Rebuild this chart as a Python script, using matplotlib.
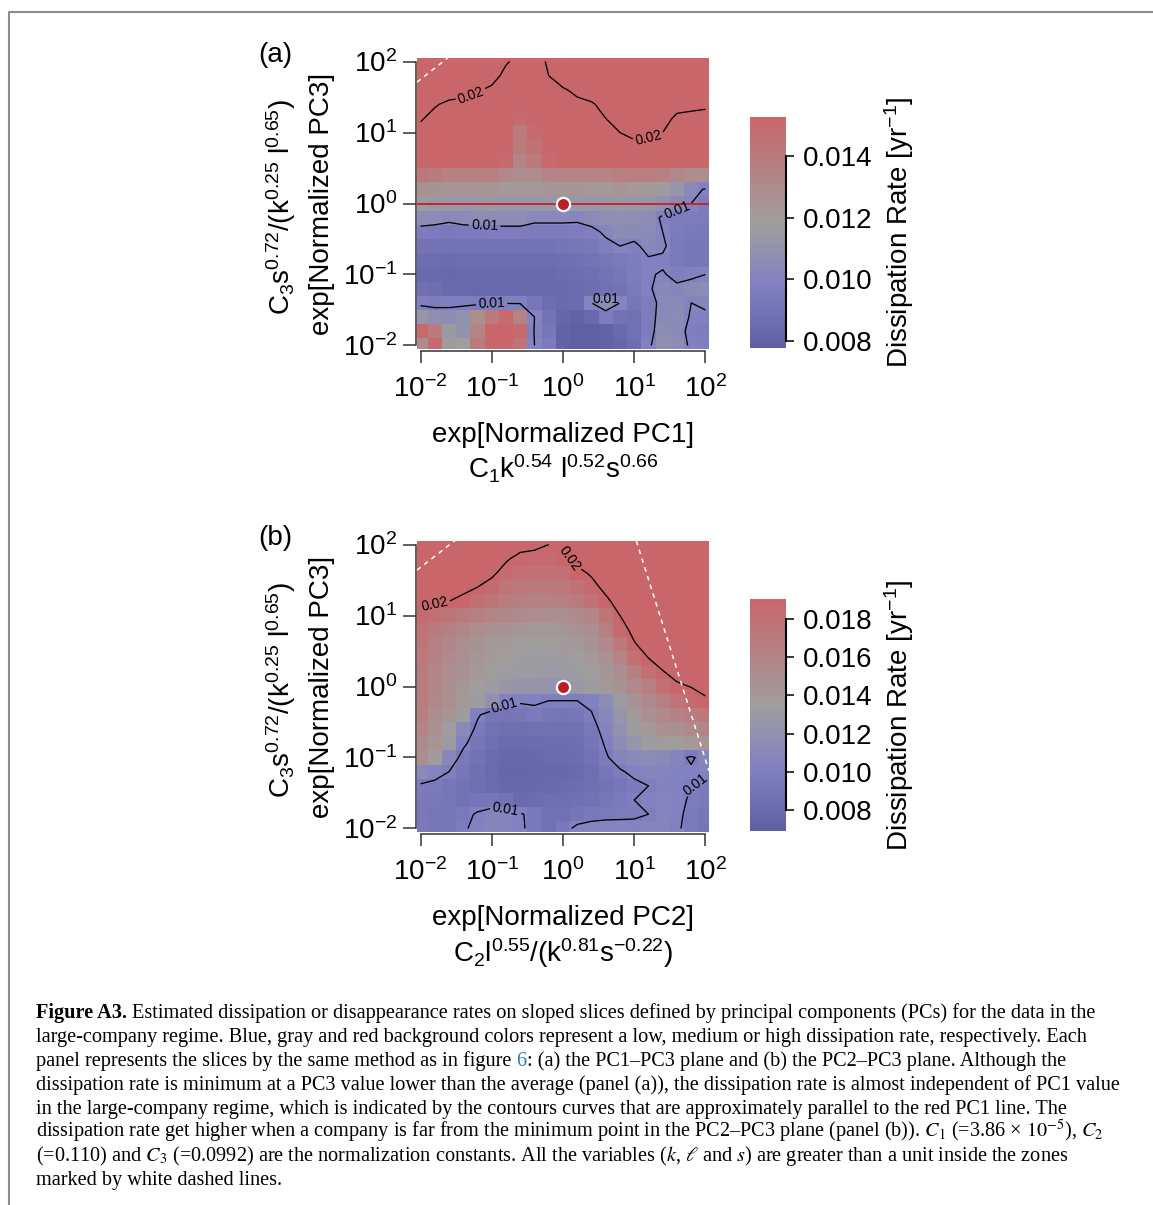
import numpy as np
import matplotlib
matplotlib.use('Agg')
import matplotlib.pyplot as plt
from matplotlib.colors import LinearSegmentedColormap
from matplotlib.ticker import FuncFormatter
from matplotlib.lines import Line2D

plt.rcParams['font.family'] = ['Liberation Sans', 'DejaVu Sans']
plt.rcParams['mathtext.fontset'] = 'custom'
plt.rcParams['mathtext.rm'] = 'Liberation Sans'
plt.rcParams['mathtext.it'] = 'Liberation Sans:italic'
plt.rcParams['mathtext.bf'] = 'Liberation Sans:bold'

W, H = 1153, 1205

# cell centres (log10 of the axis value), same for both axes
log_centres = [-2.0, -1.8, -1.6, -1.4, -1.2, -1.0, -0.8, -0.6, -0.4, -0.2, 0.0,
               0.2, 0.4, 0.6, 0.8, 1.0, 1.2, 1.4, 1.6, 1.8, 2.0]

# estimated dissipation rate in 1e-4 / yr, rows from top (10^2) to bottom (10^-2)
rate_a = [
    [240, 240, 240, 240, 240, 230, 205, 185, 185, 205, 240, 240, 240, 240, 240, 240, 240, 240, 240, 240, 240],
    [240, 240, 240, 240, 235, 220, 185, 180, 180, 200, 225, 235, 240, 240, 240, 240, 240, 240, 240, 240, 240],
    [240, 235, 225, 220, 205, 190, 180, 175, 175, 185, 195, 210, 225, 235, 240, 240, 240, 240, 240, 240, 240],
    [235, 205, 190, 185, 185, 180, 175, 165, 170, 180, 185, 190, 195, 215, 232, 235, 238, 230, 215, 212, 208],
    [205, 185, 180, 180, 180, 175, 170, 150, 160, 175, 180, 180, 185, 200, 222, 225, 222, 215, 192, 188, 186],
    [185, 180, 180, 175, 175, 170, 165, 140, 150, 170, 175, 175, 180, 185, 200, 210, 207, 200, 180, 180, 180],
    [180, 175, 175, 175, 175, 170, 160, 140, 145, 165, 170, 170, 170, 175, 185, 190, 190, 180, 175, 175, 170],
    [170, 165, 165, 165, 160, 160, 150, 135, 140, 150, 160, 160, 160, 160, 165, 165, 165, 165, 160, 160, 160],
    [142, 140, 136, 136, 136, 138, 132, 128, 130, 134, 135, 135, 135, 135, 138, 138, 138, 136, 132, 130, 128],
    [126, 125, 124, 124, 124, 124, 122, 122, 122, 124, 124, 124, 122, 122, 124, 122, 122, 120, 112, 104, 99],
    [116, 114, 114, 113, 113, 114, 113, 113, 113, 114, 115, 114, 113, 113, 114, 113, 112, 109, 104, 100, 96],
    [106, 105, 103, 105, 106, 106, 106, 106, 103, 103, 103, 102, 105, 107, 108, 108, 106, 98, 96, 96, 95],
    [96, 95, 94, 95, 95, 96, 96, 96, 95, 95, 95, 96, 97, 102, 105, 104, 105, 100, 95, 94, 93],
    [90, 90, 89, 90, 90, 90, 90, 90, 90, 90, 91, 92, 93, 97, 100, 98, 103, 102, 94, 92, 92],
    [86, 86, 85, 86, 86, 86, 86, 86, 86, 86, 87, 88, 90, 92, 94, 96, 99, 98, 94, 92, 92],
    [84, 84, 83, 84, 84, 84, 84, 84, 84, 84, 85, 86, 87, 89, 92, 95, 99, 101, 97, 98, 100],
    [88, 86, 84, 84, 83, 84, 84, 84, 84, 84, 84, 85, 86, 88, 90, 94, 99, 103, 102, 104, 106],
    [97, 96, 97, 97, 96, 97, 98, 98, 92, 86, 84, 85, 100, 105, 100, 92, 96, 103, 104, 100, 102],
    [112, 108, 106, 110, 128, 140, 150, 135, 100, 90, 82, 80, 84, 96, 90, 88, 96, 104, 105, 99, 98],
    [150, 140, 115, 110, 135, 155, 158, 150, 98, 92, 80, 78, 78, 80, 84, 88, 96, 106, 104, 97, 96],
    [130, 150, 120, 118, 140, 158, 160, 145, 100, 95, 80, 78, 78, 80, 82, 86, 98, 108, 106, 98, 97],
]

rate_b = [
    [240, 240, 240, 240, 240, 240, 235, 215, 210, 200, 200, 225, 240, 240, 240, 240, 240, 240, 240, 240, 240],
    [240, 240, 240, 240, 240, 235, 205, 188, 185, 185, 190, 212, 235, 240, 240, 240, 240, 240, 240, 240, 240],
    [240, 240, 240, 235, 225, 208, 185, 180, 178, 178, 180, 190, 205, 225, 240, 240, 240, 240, 240, 240, 240],
    [235, 230, 220, 210, 200, 185, 175, 172, 170, 170, 172, 178, 188, 210, 230, 240, 240, 240, 240, 240, 240],
    [212, 206, 200, 190, 182, 175, 168, 165, 162, 162, 165, 170, 178, 192, 215, 235, 240, 240, 240, 240, 240],
    [185, 180, 175, 170, 165, 160, 158, 155, 152, 150, 152, 155, 160, 175, 200, 220, 235, 240, 240, 240, 240],
    [178, 170, 165, 158, 152, 148, 145, 142, 140, 140, 142, 145, 150, 165, 188, 208, 225, 235, 240, 240, 240],
    [175, 165, 158, 150, 145, 140, 138, 136, 135, 135, 137, 140, 145, 155, 172, 198, 212, 225, 232, 235, 238],
    [172, 162, 155, 148, 142, 138, 135, 133, 132, 132, 133, 136, 140, 148, 160, 180, 200, 212, 220, 228, 232],
    [170, 160, 152, 145, 140, 135, 132, 130, 130, 129, 130, 132, 136, 142, 150, 165, 180, 198, 210, 218, 225],
    [170, 158, 150, 142, 136, 130, 126, 124, 123, 122, 124, 128, 133, 140, 146, 155, 165, 180, 195, 201, 210],
    [168, 156, 148, 140, 132, 120, 104, 102, 102, 100, 100, 100, 103, 115, 130, 145, 155, 165, 175, 185, 195],
    [165, 152, 144, 132, 102, 92, 90, 92, 96, 92, 90, 92, 99, 110, 125, 138, 148, 155, 162, 168, 172],
    [160, 148, 136, 112, 96, 88, 85, 85, 86, 86, 86, 87, 94, 106, 120, 132, 140, 148, 150, 155, 158],
    [155, 144, 130, 103, 92, 84, 80, 80, 81, 82, 82, 84, 90, 102, 115, 125, 132, 138, 135, 140, 145],
    [150, 138, 110, 95, 88, 80, 77, 77, 78, 80, 80, 82, 88, 98, 108, 112, 115, 112, 106, 97, 108],
    [112, 106, 100, 92, 85, 80, 76, 76, 77, 78, 78, 80, 84, 92, 98, 104, 108, 106, 104, 103, 104],
    [98, 96, 92, 88, 84, 80, 77, 77, 78, 79, 80, 82, 85, 88, 92, 96, 100, 104, 103, 100, 98],
    [95, 94, 92, 88, 90, 92, 88, 80, 82, 84, 84, 86, 88, 92, 96, 100, 104, 106, 104, 98, 95],
    [94, 92, 92, 95, 102, 106, 106, 102, 94, 86, 86, 90, 94, 96, 97, 98, 100, 106, 103, 96, 92],
    [95, 92, 93, 98, 104, 108, 108, 103, 94, 86, 94, 104, 106, 106, 105, 104, 106, 106, 102, 95, 90],
]

# colour bar ranges and ticks
cbar_a_lim = [0.00777, 0.01528]
cbar_a_ticks = [0.008, 0.010, 0.012, 0.014]
cbar_b_lim = [0.00691, 0.01904]
cbar_b_ticks = [0.008, 0.010, 0.012, 0.014, 0.016, 0.018]
contour_levels = [0.01, 0.02]
axis_ticks = [-2, -1, 0, 1, 2]          # log10 positions of 10^-2 ... 10^2
min_point = [0.0, 0.0]                  # log10 of (1, 1)

# where contour labels sit (log10 x, log10 y)
labels_a = [(-1.3, 1.55), (1.2, 0.92), (-1.1, -0.3), (1.7, -0.3), (-1.0, -1.45), (0.6, -1.3)]
labels_b = [(-1.8, 1.14), (0.0, 1.75), (-0.85, -0.2), (-0.8, -1.7), (1.9, -1.5)]

# white dashed zone borders (log10 x list, log10 y list)
zones_a = [([-2.05, -1.62], [1.71, 2.05])]
zones_b = [([-2.05, -1.5], [1.64, 2.07]), ([1.03, 2.05], [2.05, -1.19])]

cmap = LinearSegmentedColormap.from_list(
    'rate', [(0.0, '#5F5FA5'), (0.28, '#8282C2'), (0.54, '#A09E9E'), (1.0, '#C9666A')])


def px_rect(l, t, r, b):
    return [l / W, 1 - b / H, (r - l) / W, (b - t) / H]


def pow10(v, pos):
    return '$\\mathdefault{10^{%d}}$' % round(v)


fig = plt.figure(figsize=(W / 100, H / 100), dpi=100)

# page frame
fig.add_artist(Line2D([9 / W, 9 / W, 1], [0, 1 - 12 / H, 1 - 12 / H],
                      transform=fig.transFigure, color='#8c8c8c', lw=1.5))


def panel(top, rate, lim, cticks, labels, zones, xlab1, xlab2, tag, red_line):
    ax = fig.add_axes(px_rect(417, top, 709, top + 291))
    c = np.array(log_centres)
    edges = np.r_[c - 0.1, c[-1] + 0.1]
    z = np.flipud(np.array(rate, dtype=float)) * 1e-4
    mesh = ax.pcolormesh(edges, edges, z, cmap=cmap, vmin=lim[0], vmax=lim[1],
                         shading='flat', antialiased=False, linewidth=0)
    cs = ax.contour(c, c, z, levels=contour_levels, colors='k', linewidths=0.95)
    ax.clabel(cs, fmt={0.01: '0.01', 0.02: '0.02'}, fontsize=10, inline=True,
              inline_spacing=2, manual=labels)
    for zx, zy in zones:
        ax.plot(zx, zy, color='white', lw=1.1, dashes=(3, 3))
    if red_line:
        ax.axhline(min_point[1], color='#C4262B', lw=1.4)
    ax.plot(min_point[0], min_point[1], 'o', ms=9.5, mfc='#B91F24', mec='white', mew=1.6)

    ax.set_xlim(-2.05, 2.05)
    ax.set_ylim(-2.05, 2.05)
    ax.set_xticks(axis_ticks)
    ax.set_yticks(axis_ticks)
    ax.xaxis.set_major_formatter(FuncFormatter(pow10))
    ax.yaxis.set_major_formatter(FuncFormatter(pow10))
    for s in ['top', 'right']:
        ax.spines[s].set_visible(False)
    ax.spines['left'].set_position(('outward', 1))
    ax.spines['bottom'].set_position(('outward', 1.5))
    ax.spines['left'].set_bounds(-2, 2)
    ax.spines['bottom'].set_bounds(-2, 2)
    for s in ['left', 'bottom']:
        ax.spines[s].set_linewidth(1.1)
        ax.spines[s].set_color('#333333')
    ax.tick_params(axis='y', length=9.4, width=1.1, color='#333333', labelsize=20, pad=4)
    ax.tick_params(axis='x', length=8.6, width=1.1, color='#333333', labelsize=20, pad=9)

    # axis titles
    fig.text(563 / W, 1 - (top + 384) / H, xlab1, fontsize=20, ha='center', va='baseline')
    fig.text(563 / W, 1 - (top + 421) / H, xlab2, fontsize=20, ha='center', va='baseline')
    fig.text(290 / W, 1 - (top + 149) / H, 'C$_3$s$^{0.72}$/(k$^{0.25}$ l$^{0.65}$)',
             fontsize=20, rotation=90, rotation_mode='anchor', ha='center', va='baseline')
    fig.text(329 / W, 1 - (top + 146) / H, 'exp[Normalized PC3]',
             fontsize=20, rotation=90, rotation_mode='anchor', ha='center', va='baseline')
    fig.text(275 / W, 1 - (top + 4) / H, tag, fontsize=20, ha='center', va='baseline')

    # colour bar
    ctop = top + 59 if tag == '(a)' else top + 58
    cbot = top + 290
    cax = fig.add_axes(px_rect(750, ctop, 786, cbot))
    cb = fig.colorbar(mesh, cax=cax, ticks=cticks)
    cb.outline.set_visible(False)
    cax.set_yticklabels(['%.3f' % t for t in cticks])
    cax.tick_params(length=6, width=1.1, labelsize=20, pad=6)
    cax.plot([1, 1], [cticks[0], cticks[-1]], transform=cax.get_yaxis_transform(),
             color='black', lw=1.5, clip_on=False)
    fig.text(908 / W, 1 - ((ctop + cbot) / 2) / H, 'Dissipation Rate [yr$^{-1}$]',
             fontsize=20, rotation=90, rotation_mode='anchor', ha='center', va='baseline')


panel(58, rate_a, cbar_a_lim, cbar_a_ticks, labels_a, zones_a,
      'exp[Normalized PC1]', 'C$_1$k$^{0.54}$ l$^{0.52}$s$^{0.66}$', '(a)', True)
panel(541, rate_b, cbar_b_lim, cbar_b_ticks, labels_b, zones_b,
      'exp[Normalized PC2]', 'C$_2$l$^{0.55}$/(k$^{0.81}$s$^{-0.22}$)', '(b)', False)

# caption
cap_lines = [
    [('Figure A3.', {'weight': 'bold'}),
     (' Estimated dissipation or disappearance rates on sloped slices defined by principal components (PCs) for the data in the', {})],
    [('large-company regime. Blue, gray and red background colors represent a low, medium or high dissipation rate, respectively. Each', {})],
    [('panel represents the slices by the same method as in figure', {}), (' 6', {'color': '#2b7bbd'}),
     (': (a) the PC1\u2013PC3 plane and (b) the PC2\u2013PC3 plane. Although the', {})],
    [('dissipation rate is minimum at a PC3 value lower than the average (panel (a)), the dissipation rate is almost independent of PC1 value', {})],
    [('in the large-company regime, which is indicated by the contours curves that are approximately parallel to the red PC1 line. The', {})],
    [('dissipation rate get higher when a company is far from the minimum point in the PC2\u2013PC3 plane (panel (b)). $C_1$ (=3.86 \u00d7 $10^{-5}$), $C_2$', {})],
    [('(=0.110) and $C_3$ (=0.0992) are the normalization constants. All the variables ($k$, $\\ell$ and $s$) are greater than a unit inside the zones', {})],
    [('marked by white dashed lines.', {})],
]

cap_kw = dict(family='Liberation Serif', math_fontfamily='stix', va='baseline', ha='left')
r = fig.canvas.get_renderer()
probe = fig.text(0, 0, cap_lines[3][0][0], fontsize=14, **cap_kw)
cap_fs = 14 * (1123 - 36) / probe.get_window_extent(r).width
probe.remove()
p1 = fig.text(0, 0, 'n n', fontsize=cap_fs, **cap_kw)
p2 = fig.text(0, 0, 'nn', fontsize=cap_fs, **cap_kw)
space_w = p1.get_window_extent(r).width - p2.get_window_extent(r).width
p1.remove()
p2.remove()

for i, parts in enumerate(cap_lines):
    y = 1018 + 23.9 * i
    x = 36
    for txt, opts in parts:
        if txt.startswith(' '):
            x += space_w
            txt = txt[1:]
        t = fig.text(x / W, 1 - y / H, txt, fontsize=cap_fs, **cap_kw, **opts)
        x = t.get_window_extent(r).x1

fig.savefig('out.png', dpi=100)
